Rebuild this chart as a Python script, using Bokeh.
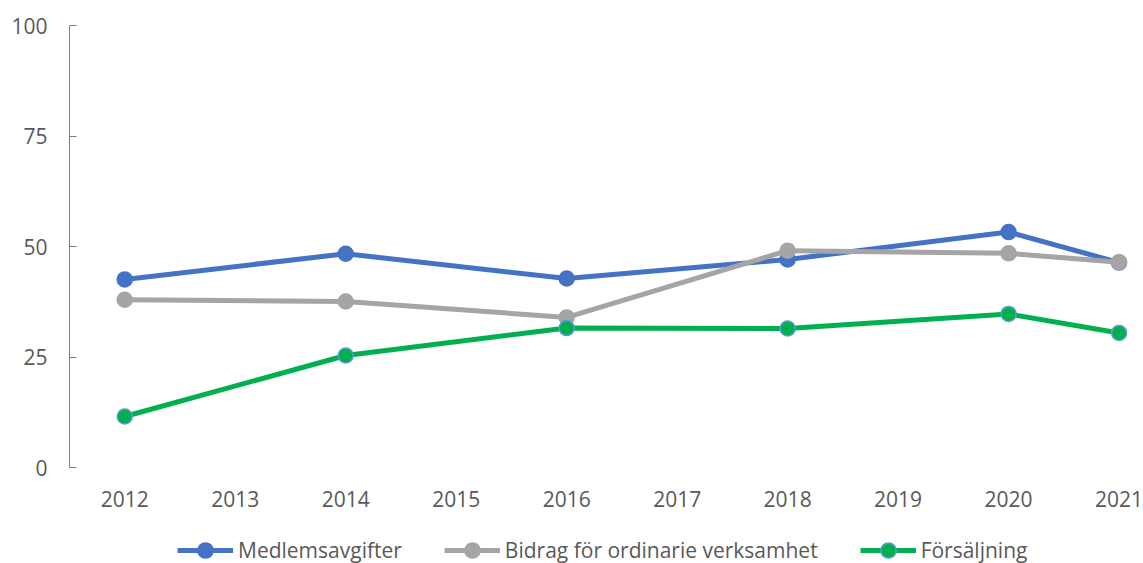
from bokeh.plotting import figure
from bokeh.models import FixedTicker, Legend, LegendItem, Range1d
from bokeh.embed import file_html
from bokeh.resources import INLINE

years = [2012, 2014, 2016, 2018, 2020, 2021]
medlemsavgifter = [42.6, 48.4, 42.8, 47.1, 53.3, 46.4]
bidrag = [38.0, 37.6, 34.0, 49.1, 48.5, 46.5]
forsaljning = [11.6, 25.4, 31.6, 31.5, 34.8, 30.5]
x_ticks = list(range(2012, 2022))
y_ticks = [0, 25, 50, 75, 100]
names = ["Medlemsavgifter", "Bidrag för ordinarie verksamhet", "Försäljning"]

FONT = "Open Sans"
TXT = "#595959"

# frame spans to the bottom of the canvas; the region below y=0 hosts axis labels and legend
p = figure(width=1143, height=563, output_backend="svg", toolbar_location=None,
           x_range=Range1d(2011.5, 2021.221), y_range=Range1d(-21.63, 100),
           min_border_left=69, min_border_right=0, min_border_top=25, min_border_bottom=0)
p.outline_line_color = None
p.xgrid.visible = False
p.ygrid.visible = False

# y axis
p.yaxis.ticker = FixedTicker(ticks=y_ticks)
p.yaxis.bounds = (0, 100)
p.yaxis.axis_line_color = "#7F7F7F"
p.yaxis.major_tick_line_color = "#7F7F7F"
p.yaxis.major_tick_in = 7
p.yaxis.major_tick_out = 0
p.yaxis.minor_tick_line_color = None
p.yaxis.major_label_standoff = 22
p.yaxis.major_label_text_font = FONT
p.yaxis.major_label_text_font_size = "21px"
p.yaxis.major_label_text_color = TXT

# x axis, pinned at y=0
p.xaxis.fixed_location = 0
p.xaxis.ticker = FixedTicker(ticks=x_ticks)
p.xaxis.axis_line_color = None
p.xaxis.major_tick_line_color = None
p.xaxis.minor_tick_line_color = None
p.xaxis.major_tick_out = 0
p.xaxis.major_tick_in = 0
p.xaxis.major_label_standoff = 23
p.xaxis.major_label_text_font = FONT
p.xaxis.major_label_text_font_size = "21px"
p.xaxis.major_label_text_color = TXT

series = [
    (medlemsavgifter, "#4472C4", "#4472C4", "#4472C4"),
    (bidrag, "#A5A5A5", "#A5A5A5", "#A5A5A5"),
    (forsaljning, "#00B050", "#00B050", "#5B9BD5"),
]
items = []
for (vals, lc, fc, oc), name in zip(series, names):
    l = p.line(years, vals, line_color=lc, line_width=5)
    s = p.scatter(years, vals, size=15, fill_color=fc, line_color=oc, line_width=1.5)
    items.append(LegendItem(label=name, renderers=[l, s]))

legend = Legend(items=items, orientation="horizontal", location=(108, -6),
                glyph_width=56, glyph_height=38, label_standoff=5, spacing=42,
                padding=0, margin=0, border_line_color=None, background_fill_alpha=0,
                label_text_font=FONT, label_text_font_size="21px", label_text_color=TXT)
p.add_layout(legend, "center")

open("out.html", "w").write(file_html(p, INLINE))
